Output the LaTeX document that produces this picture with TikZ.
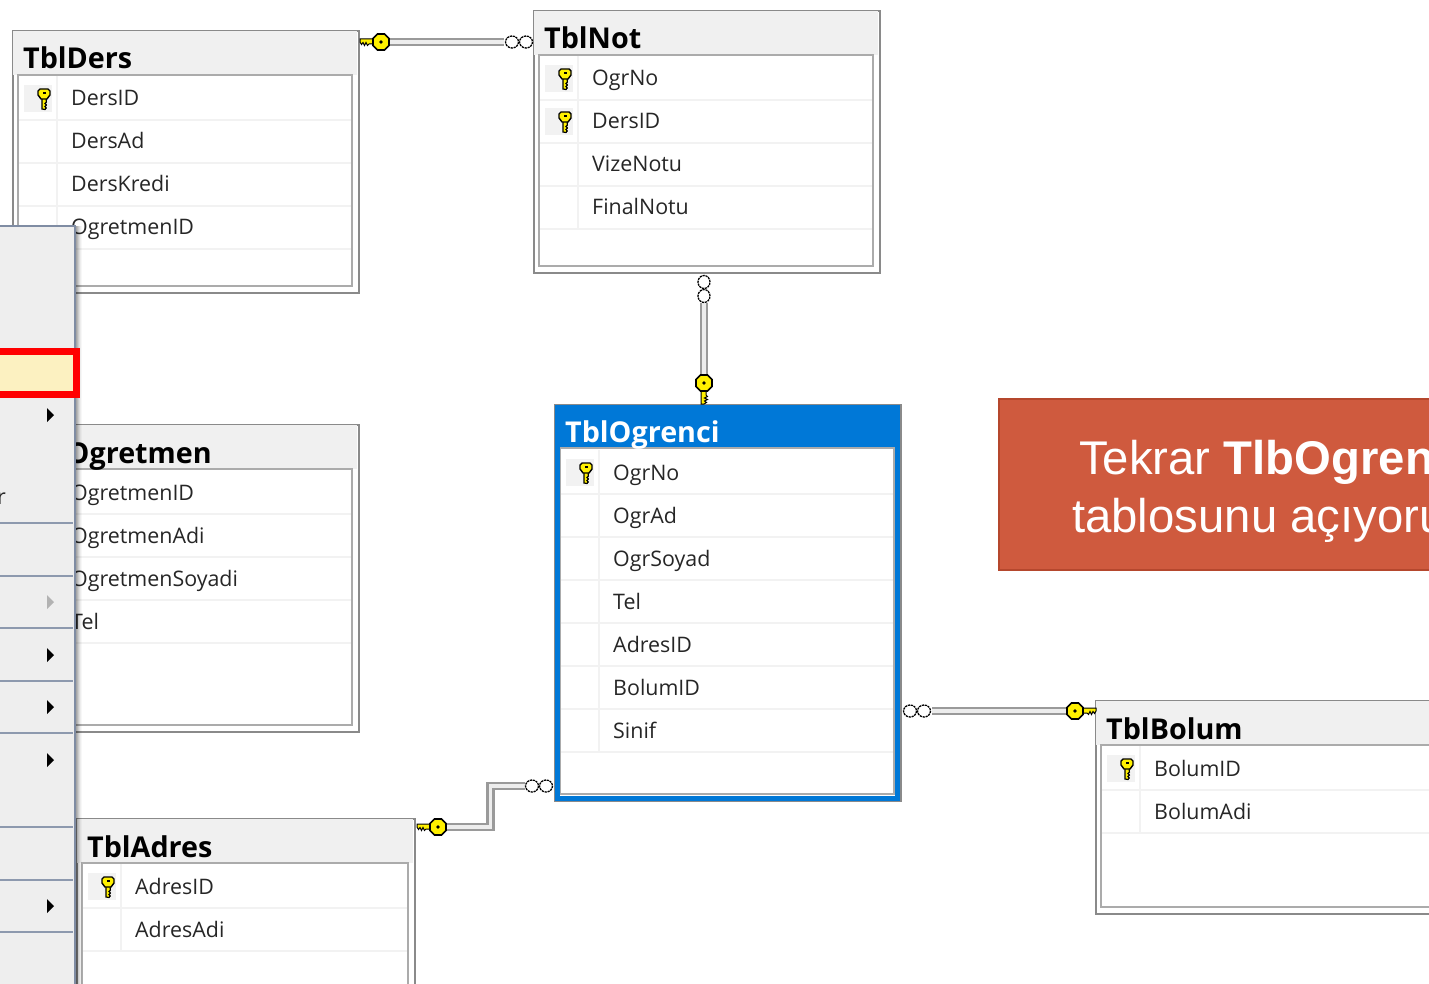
\documentclass[tikz,border=0pt]{standalone}
\usetikzlibrary{calc}
\usepackage{fontspec}
\setmainfont{Open Sans}
\newfontfamily\boxfont{Liberation Sans}
\definecolor{edgegray}{HTML}{8A8A8A}
\definecolor{innergray}{HTML}{ABABAB}
\definecolor{bandgray}{HTML}{F0F0F0}
\definecolor{rowgray}{HTML}{F2F2F2}
\definecolor{linkgray}{HTML}{9A9A9A}
\definecolor{linkmid}{HTML}{EDEDED}
\definecolor{selblue}{HTML}{0078D7}
\definecolor{keyyellow}{HTML}{FFF000}
\definecolor{menubg}{HTML}{EEEEEE}
\definecolor{menuline}{HTML}{8D99AE}
\definecolor{menuedge}{HTML}{7F8CA3}
\definecolor{highlite}{HTML}{FCF1C1}
\definecolor{notered}{HTML}{CF5A3E}
\definecolor{noteedge}{HTML}{B5472D}
\tikzset{
  tablebox/.style={draw=edgegray,line width=2pt,fill=white,anchor=north west,inner sep=0pt},
  titletext/.style={anchor=base west,inner sep=0pt,font=\fontsize{28.7}{28}\selectfont\bfseries},
  rowtext/.style={anchor=base west,inner sep=0pt,font=\fontsize{21.4}{24}\selectfont,text=black!85},
  relline/.style={draw=linkgray,line width=2.5pt,double=linkmid,double distance=3.5pt,line cap=butt},
  fkey/.pic={
    \draw[black,fill=keyyellow,line width=1pt] (6,-3) -- (21,-3) -- (21,0) -- (19.5,2.5) -- (18,0.5) -- (16.5,3.5) -- (15,0.5) -- (13.5,3.5) -- (12,2) -- (6,2) -- cycle;
    \draw[black,fill=keyyellow,line width=1.6pt] (-3.5,-8) -- (3.5,-8) -- (8,-3.5) -- (8,3.5) -- (3.5,8) -- (-3.5,8) -- (-8,3.5) -- (-8,-3.5) -- cycle;
    \fill[black] (0,0) circle (1.8);
  },
  rowkey/.pic={
    \draw[black,fill=keyyellow,line width=1.2pt] (-2,3) -- (-2,15) -- (1,15.5) -- (2.2,14) -- (1,12.5) -- (2.4,11) -- (1,9.5) -- (2.4,8) -- (2,3) -- cycle;
    \draw[black,fill=keyyellow,line width=1.4pt] (-4,-5) -- (4,-5) -- (6,-3) -- (6,1) -- (3,5) -- (-3,5) -- (-6,1) -- (-6,-3) -- cycle;
    \fill[black] (-1.5,-1.8) rectangle (1.5,-0.4);
  },
  manyend/.pic={
    \draw[black,fill=white,line width=1.3pt,dash pattern=on 2.2pt off 0.8pt] (0,0) ellipse (6.5 and 6);
    \draw[black,fill=white,line width=1.3pt,dash pattern=on 2.2pt off 0.8pt] (14,0) ellipse (6.5 and 6);
  },
  menuarrow/.style={fill=black,draw=none},
  menusep/.style={draw=menuline,line width=1.5pt},
}
\newcommand{\dbrows}{4}
\newcommand{\dbtable}[8]{%
  % name, x, y, w, h, title, key count, rows
  \node[tablebox,minimum width=#4pt,minimum height=#5pt] (#1) at (#2,#3) {};
  \fill[bandgray] (#2+1,#3+1) rectangle (#2+#4-1,#3+45);
  \draw[innergray,line width=2pt,fill=white] (#2+6,#3+45) rectangle (#2+#4-6,#3+#5-6);
  \node[titletext] (#1-title) at (#2+11,#3+39) {#6};
  \draw[rowgray,line width=1.5pt] (#2+45,#3+46) -- (#2+45,#3+47+43*\dbrows);
  \foreach \lbl [count=\i] in {#8} {
    \pgfmathsetmacro{\ya}{#3+47+43*\i}
    \pgfmathsetmacro{\yb}{\ya-14}
    \draw[rowgray,line width=1.5pt] (#2+7,\ya) -- (#2+#4-7,\ya);
    \node[rowtext] (#1-r\i) at (#2+59,\yb) {\lbl};
    \ifnum\i>#7\relax\else
      \fill[rowgray] (#2+12,\ya-35) rectangle (#2+40,\ya-8);
      \pic at (#2+32,\ya-26) {rowkey};
    \fi
  }
}
\begin{document}
\begin{tikzpicture}[x=1pt,y=-1pt]
\useasboundingbox (0,0) rectangle (1429,984);
\clip (0,0) rectangle (1429,984);
\fill[white] (0,0) rectangle (1429,984);

\renewcommand{\dbrows}{4}
\dbtable{ders}{12}{30}{346}{262}{TblDers}{1}{DersID,DersAd,DersKredi,OgretmenID}
\dbtable{not}{533}{10}{346}{262}{TblNot}{2}{OgrNo,DersID,VizeNotu,FinalNotu}
\dbtable{ogretmen}{12}{424}{346}{307}{TblOgretmen}{1}{OgretmenID,OgretmenAdi,OgretmenSoyadi,Tel}
\renewcommand{\dbrows}{2}
\dbtable{adres}{76}{818}{338}{230}{TblAdres}{1}{AdresID,AdresAdi}
\dbtable{bolum}{1095}{700}{346}{213}{TblBolum}{1}{BolumID,BolumAdi}

% selected table
\node[tablebox,minimum width=346pt,minimum height=396pt] (ogrenci) at (554,404) {};
\fill[selblue] (555,405) rectangle (899,447);
\draw[innergray,line width=2pt,fill=white] (560,448) rectangle (894,794);
\draw[selblue,line width=5pt] (557.5,407) rectangle (897.5,798);
\node[titletext,text=white] (ogrenci-title) at (565,442) {TblOgrenci};
\draw[rowgray,line width=1.5pt] (599,450) -- (599,752);
\foreach \lbl [count=\i] in {OgrNo,OgrAd,OgrSoyad,Tel,AdresID,BolumID,Sinif} {
  \pgfmathsetmacro{\ya}{451+43*\i}
  \pgfmathsetmacro{\yb}{\ya-14}
  \draw[rowgray,line width=1.5pt] (561,\ya) -- (893,\ya);
  \node[rowtext] (ogrenci-r\i) at (613,\yb) {\lbl};
}
\fill[rowgray] (566,459) rectangle (594,486);
\pic at (586,468) {rowkey};

% connector ends
\coordinate (k1) at (ders.east |- 0,42);
\coordinate (m1) at (not.west |- 0,42);
\coordinate (m2) at (704,273);
\coordinate (k2) at (704,404);
\coordinate (m3) at (ogrenci.east |- 0,711);
\coordinate (k3) at (bolum.west |- 0,711);
\coordinate (k4) at (adres.east |- 0,827);
\coordinate (m4) at (ogrenci.west |- 0,786);

\draw[relline] ($(k1)+(28,0)$) -- ($(m1)+(-29,0)$);
\draw[relline] ($(m2)+(0,30)$) -- ($(k2)+(0,-28)$);
\draw[relline] ($(m3)+(30,0)$) -- ($(k3)+(-27,0)$);
\draw[relline] ($(k4)+(30,0)$) -| (490.5,786) -- ($(m4)+(-29,0)$);

\pic[xscale=-1] at (381,42) {fkey};
\pic at (512,42) {manyend};
\pic[rotate=-90] at (704,282) {manyend};
\pic[rotate=-90,yscale=-1] at (704,383) {fkey};
\pic at (910,711) {manyend};
\pic at (1075,711) {fkey};
\pic[xscale=-1] at (438,827) {fkey};
\pic at (532,786) {manyend};

% note
\node[draw=noteedge,line width=2pt,fill=notered,anchor=north west,minimum width=460pt,minimum height=171pt,inner sep=0pt] (note) at (998,398) {};
\node[anchor=base west,inner sep=0pt,text=white,font=\boxfont\fontsize{47.3}{46}\selectfont] (noteA) at (1079,474) {Tekrar \textbf{TlbOgren}};
\node[anchor=base west,inner sep=0pt,text=white,font=\boxfont\fontsize{47.3}{46}\selectfont] (noteB) at (1072,532) {tablosunu açıyoru};

% context menu
\foreach \xx/\op in {76/.35,77/.28,78/.2,79/.13,80/.07,81/.03} \fill[black,opacity=\op] (\xx,226) rectangle (\xx+1,984);
\fill[menubg] (0,226) rectangle (76,984);
\draw[menuedge,line width=2pt] (0,226) -- (75,226) -- (75,984);
\foreach \yy in {523,576,628,681,733,827,880,932} \draw[menusep] (0,\yy) -- (73,\yy);
\foreach \yy in {415,655,707,760,906} \fill[menuarrow] (47,\yy-7) -- (54,\yy) -- (47,\yy+7) -- cycle;
\fill[black!30] (47,595) -- (54,602) -- (47,609) -- cycle;
\draw[red,line width=7pt,fill=highlite] (-5,351.5) rectangle (76.5,394.5);
\node[anchor=base west,inner sep=0pt,font=\fontsize{21.4}{24}\selectfont,text=black!85] (menu-r) at (-3,504) {r};
\end{tikzpicture}
\end{document}
